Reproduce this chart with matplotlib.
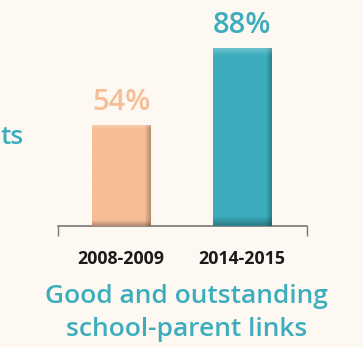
import numpy as np
import matplotlib.pyplot as plt
from matplotlib.colors import to_rgb

years = ["2008-2009", "2014-2015"]
values = [54, 88]
labels = ["54%", "88%"]
colors = ["#F6BE97", "#3CADBD"]
title = "Good and outstanding\nschool-parent links"

bg = "#FDF8F2"
teal = "#3CADBD"

fig = plt.figure(figsize=(3.63, 3.47), dpi=100, facecolor=bg)
ax = fig.add_axes([0.160, 0.349, 0.686, 0.513])
ax.set_facecolor(bg)

x = np.arange(len(values))
bars = ax.bar(x, values, width=0.48, color=colors, zorder=2)

# bevel shading: darker right / bottom edge, lighter top edge
for b, c in zip(bars, colors):
    rgb = np.array(to_rgb(c))
    nx, ny = 60, 60
    gx = np.linspace(0, 1, nx)
    gy = np.linspace(0, 1, ny)
    shade = np.ones((ny, nx))
    shade *= np.where(gx > 0.9, 1 - (gx - 0.9) * 2.5, 1)[None, :]
    shade *= np.where(gy < 0.05, 1 - (0.05 - gy) * 5, 1)[:, None]
    light = np.where(gy > 0.96, (gy - 0.96) * 6, 0)[:, None] * np.ones((1, nx))
    img = rgb[None, None, :] * shade[..., None]
    img = img + (1 - img) * light[..., None]
    img = np.clip(img, 0, 1)
    x0, y0 = b.get_x(), 9.4
    im = ax.imshow(img, origin="lower", aspect="auto", zorder=3,
                   extent=[x0, x0 + b.get_width(), y0, b.get_height()])
    im.set_clip_path(b)

for xi, v, lab, c in zip(x, values, labels, colors):
    ax.text(xi, v + 3.6, lab, ha="center", va="bottom", fontsize=21,
            color=c, family="Open Sans", fontweight="semibold")

ax.set_xlim(-0.52, 1.538)
ax.set_ylim(9.4, 88)
ax.set_xticks(x)
ax.set_xticklabels(years, fontsize=12.8, fontweight="bold", family="Open Sans",
                   color="#1a1a1a")
ax.tick_params(axis="x", length=0, pad=17)
ax.set_xticks([-0.52, 1.538], minor=True)
ax.tick_params(axis="x", which="minor", length=7, width=1, color="#777777",
               direction="out")
ax.set_yticks([])
for s in ["top", "left", "right"]:
    ax.spines[s].set_visible(False)
ax.spines["bottom"].set_color("#777777")
ax.spines["bottom"].set_linewidth(1.2)

fig.text(0.513, 0.098, title, ha="center", va="center", fontsize=19,
         color=teal, family="Open Sans", fontweight="semibold", linespacing=1.42)
fig.text(0.002, 0.605, "ts", ha="left", va="center", fontsize=19,
         color=teal, family="Open Sans", fontweight="semibold")

fig.savefig("out.png", dpi=100, facecolor=bg)
